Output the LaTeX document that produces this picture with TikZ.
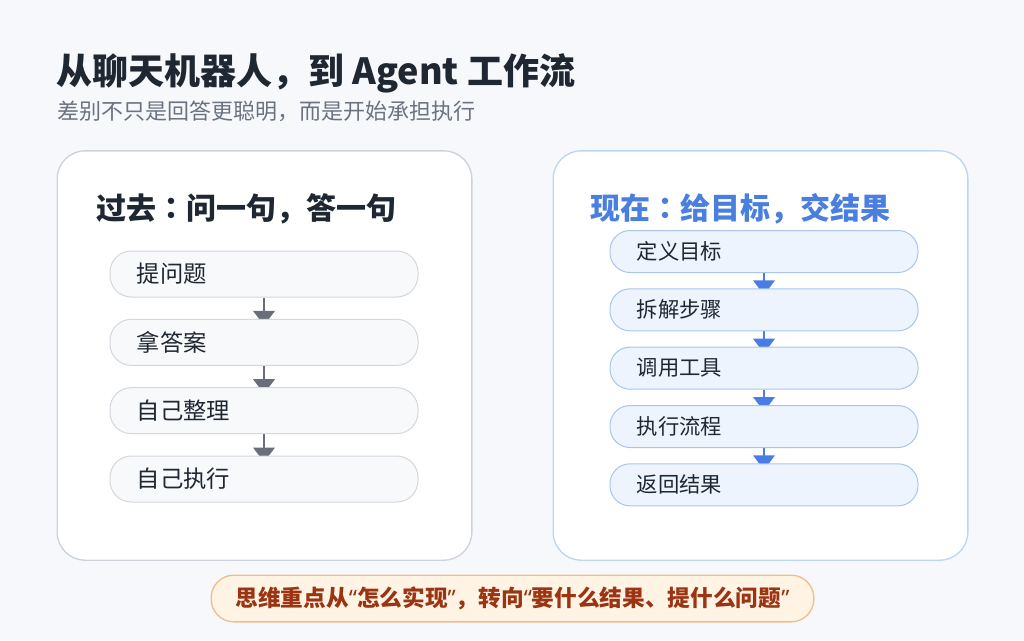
\documentclass[tikz,border=0pt]{standalone}
\usepackage{fontspec}
\setmainfont{Noto Sans CJK SC}
\newfontfamily\jpfont{Noto Sans CJK JP}
\newfontfamily\quotefont{Noto Sans}
\usetikzlibrary{arrows.meta,positioning}

\definecolor{bgpage}{HTML}{F6F8FB}
\definecolor{inkdark}{HTML}{1F2733}
\definecolor{inkgray}{HTML}{6B7280}
\definecolor{cardgray}{HTML}{CDD2DB}
\definecolor{cardblue}{HTML}{BDD6F2}
\definecolor{stepgrayfill}{HTML}{F8F9FB}
\definecolor{stepgrayline}{HTML}{D3D7DE}
\definecolor{stepbluefill}{HTML}{EDF4FD}
\definecolor{stepblueline}{HTML}{A8C6EC}
\definecolor{arrowgray}{HTML}{6A6E7A}
\definecolor{arrowblue}{HTML}{4A7CE6}
\definecolor{titleblue}{HTML}{4A7FE0}
\definecolor{notefill}{HTML}{FFF3E4}
\definecolor{noteline}{HTML}{F0BF88}
\definecolor{notetext}{HTML}{9A3412}

\pgfdeclarelayer{cards}
\pgfdeclarelayer{links}
\pgfsetlayers{cards,links,main}

\newcommand{\midcolon}{{\jpfont ：}}
\newcommand{\openq}{{\quotefont “}}
\newcommand{\closeq}{{\quotefont ”}}

\tikzset{
  card/.style={draw, line width=1pt, fill=white, rounded corners=21pt,
    minimum width=311pt, minimum height=307pt},
  oldstep/.style={draw=stepgrayline, fill=stepgrayfill, line width=0.75pt,
    rounded corners=16pt, minimum height=34.5pt, text width=191pt,
    inner xsep=20pt, align=left, font=\fontsize{17.5pt}{19pt}\selectfont, text=inkdark},
  newstep/.style={draw=stepblueline, fill=stepbluefill, line width=0.75pt,
    rounded corners=15pt, minimum height=31.5pt, text width=191pt,
    inner xsep=20pt, align=left, font=\fontsize{16pt}{18pt}\selectfont, text=inkdark},
  oldarrow/.style={draw=arrowgray, line width=2pt,
    -{Triangle[width=16pt,length=11pt]}, arrowgray, shorten >=-5pt},
  newarrow/.style={draw=arrowblue, line width=2pt,
    -{Triangle[width=16pt,length=11pt]}, arrowblue, shorten >=-5pt},
  cardtitle/.style={anchor=west, inner sep=0pt,
    font=\fontsize{22.5pt}{26pt}\selectfont\bfseries},
}

\begin{document}
\begin{tikzpicture}[x=0.75pt,y=-0.75pt]

% Page and the two cards
\begin{pgfonlayer}{cards}
\fill[bgpage] (0,0) rectangle (1024,640);
\node[card, draw=cardgray] (pastcard) at (264.5,355.5) {};
\node[card, draw=cardblue] (nowcard) at (760.5,355.5) {};
\end{pgfonlayer}
\useasboundingbox (0,0) rectangle (1024,640);

% Heading
\node[anchor=west, inner sep=0pt, text=inkdark,
      font=\fontsize{27pt}{30pt}\selectfont\bfseries] (heading) at (56,73)
      {从聊天机器人，到 Agent 工作流};
\node[anchor=west, inner sep=0pt, text=inkgray,
      font=\fontsize{16.5pt}{19pt}\selectfont] (subheading) at (57,111)
      {差别不只是回答更聪明，而是开始承担执行};

% ---- Left card: past ----
\node[cardtitle, text=inkdark] (pasttitle) at (96,209) {过去\midcolon 问一句，答一句};

\node[oldstep] (ask) at (264,274) {提问题};
\node[oldstep, below=16pt of ask] (answer) {拿答案};
\node[oldstep, below=16pt of answer] (sortout) {自己整理};
\node[oldstep, below=16pt of sortout] (doit) {自己执行};

\begin{pgfonlayer}{links}
\foreach \a/\b in {ask/answer, answer/sortout, sortout/doit}
  \draw[oldarrow] (\a.south) -- (\b.north);
\end{pgfonlayer}

% ---- Right card: now ----
\node[cardtitle, text=titleblue] (nowtitle) at (590,209) {现在\midcolon 给目标，交结果};

\node[newstep] (goal) at (764,251.5) {定义目标};
\node[newstep, below=11.5pt of goal] (split) {拆解步骤};
\node[newstep, below=11.5pt of split] (tools) {调用工具};
\node[newstep, below=11.5pt of tools] (run) {执行流程};
\node[newstep, below=11.5pt of run] (result) {返回结果};

\begin{pgfonlayer}{links}
\foreach \a/\b in {goal/split, split/tools, tools/run, run/result}
  \draw[newarrow] (\a.south) -- (\b.north);
\end{pgfonlayer}

% ---- Bottom note ----
\node[draw=noteline, fill=notefill, line width=1pt, rounded corners=17pt,
      minimum width=452pt, minimum height=35pt, text=notetext,
      font=\fontsize{17pt}{19pt}\selectfont\bfseries] (note) at (512.5,598.5)
      {思维重点从\openq 怎么实现\closeq ，转向\openq 要什么结果、提什么问题\closeq};

\end{tikzpicture}
\end{document}
